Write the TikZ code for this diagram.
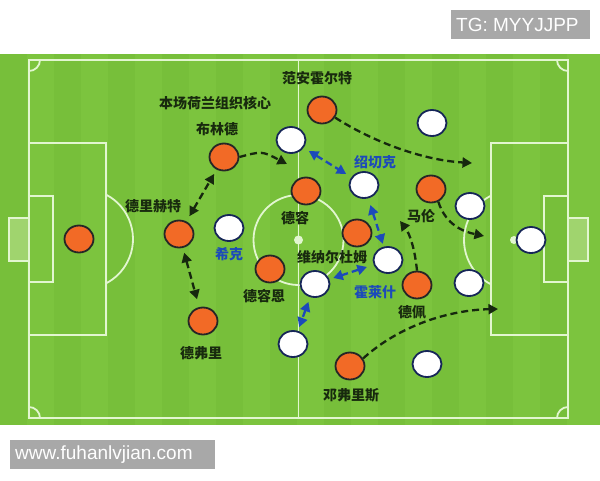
\documentclass[tikz,border=0pt]{standalone}
\usepackage{fontspec}
\setmainfont{Liberation Sans}
\newfontfamily\cjk{Noto Sans CJK SC}
\usetikzlibrary{arrows.meta,shapes.geometric}
\definecolor{pitch}{RGB}{124,196,62}
\definecolor{pitchdark}{RGB}{119,191,58}
\definecolor{linec}{RGB}{226,246,208}
\definecolor{netc}{RGB}{160,212,110}
\definecolor{orangeF}{RGB}{242,106,38}
\definecolor{navy}{RGB}{22,38,88}
\definecolor{lblc}{RGB}{24,42,14}
\definecolor{bluec}{RGB}{28,74,186}
\definecolor{arrc}{RGB}{22,40,14}
\definecolor{boxgray}{RGB}{168,168,168}
\begin{document}
\begin{tikzpicture}[x=1pt,y=-1pt,
  fieldline/.style={draw=linec, line width=1.8pt},
  opl/.style={ellipse, draw=black!85, line width=1.8pt, fill=orangeF, minimum width=29pt, minimum height=27pt, inner sep=0pt},
  wpl/.style={ellipse, draw=navy, line width=1.8pt, fill=white, minimum width=29pt, minimum height=26pt, inner sep=0pt},
  lbl/.style={font=\cjk\bfseries\fontsize{14}{14}\selectfont, text=lblc, inner sep=0pt},
  blbl/.style={lbl, text=bluec},
  darr/.style={draw=arrc, line width=2.3pt, dash pattern=on 7pt off 4pt, -{Triangle[length=9.5pt,width=10pt]}},
  dblarr/.style={draw=arrc, line width=2.3pt, dash pattern=on 7pt off 4pt, {Triangle[length=9.5pt,width=10pt]}-{Triangle[length=9.5pt,width=10pt]}},
  bluearr/.style={draw=bluec, line width=2.3pt, dash pattern=on 7pt off 4pt, {Triangle[length=9.5pt,width=10pt]}-{Triangle[length=9.5pt,width=10pt]}},
  tagbox/.style={fill=boxgray, text=white, font=\fontsize{19}{19}\selectfont, inner sep=0pt, anchor=west}
]
\useasboundingbox (0,0) rectangle (600,480);
\fill[white] (0,0) rectangle (600,480);
% pitch
\fill[pitch] (0,54) rectangle (600,425);
\foreach \x in {0,54,...,560} {\fill[pitchdark] (\x,54) rectangle (\x+27,425);}
% goals
\fill[netc] (9,218) rectangle (29,261);
\draw[linec, line width=2.6pt] (29,218) -- (9,218) -- (9,261) -- (29,261);
\fill[netc] (568,218) rectangle (588,261);
\draw[linec, line width=2.6pt] (568,218) -- (588,218) -- (588,261) -- (568,261);
% lines
\draw[fieldline] (29,60) rectangle (568,418);
\draw[fieldline] (298.5,60) -- (298.5,418);
\draw[fieldline] (298.5,240) circle[radius=45];
\fill[linec] (298.5,240) circle[radius=4.5];
\draw[fieldline] (29,143) rectangle (106,335);
\draw[fieldline] (29,196) rectangle (53,282);
\draw[fieldline] (568,143) rectangle (491,335);
\draw[fieldline] (568,196) rectangle (544,282);
\draw[fieldline] (106,194.6) arc[start angle=-62.6, end angle=62.6, radius=50];
\draw[fieldline] (491,195.6) arc[start angle=242.6, end angle=117.4, radius=50];
\fill[linec] (514,240) circle[radius=4];
\draw[fieldline] (40,60) arc[start angle=0, end angle=90, radius=11];
\draw[fieldline] (557,60) arc[start angle=180, end angle=90, radius=11];
\draw[fieldline] (40,418) arc[start angle=0, end angle=-90, radius=11];
\draw[fieldline] (557,418) arc[start angle=180, end angle=270, radius=11];
% orange players
\node[opl] (gk) at (79,239) {};
\node[opl] (drh) at (179,234) {};
\node[opl] (bld) at (224,157) {};
\node[opl] (fah) at (322,110) {};
\node[opl] (dfl) at (203,321) {};
\node[opl] (dr) at (306,191) {};
\node[opl] (dre) at (270,269) {};
\node[opl] (wnd) at (357,233) {};
\node[opl] (ml) at (431,189) {};
\node[opl] (dp) at (417,285) {};
\node[opl] (dfs) at (350,366) {};
% white players
\node[wpl] (w1) at (291,140) {};
\node[wpl] (w2) at (432,123) {};
\node[wpl] (sqk) at (364,185) {};
\node[wpl] (xk) at (229,228) {};
\node[wpl] (w5) at (470,206) {};
\node[wpl] (wgk) at (531,240) {};
\node[wpl] (w7) at (388,260) {};
\node[wpl] (w8) at (315,284) {};
\node[wpl] (w9) at (469,283) {};
\node[wpl] (w10) at (293,344) {};
\node[wpl] (w11) at (427,364) {};
% labels
\node[lbl] (t1) at (317,78) {范安霍尔特};
\node[lbl] (t2) at (215,103) {本场荷兰组织核心};
\node[lbl] (t3) at (217,129) {布林德};
\node[lbl] (t4) at (153,206) {德里赫特};
\node[blbl] (t5) at (229,254) {希克};
\node[lbl] (t6) at (295,218) {德容};
\node[blbl] (t7) at (375,162) {绍切克};
\node[lbl] (t8) at (421,216) {马伦};
\node[lbl] (t9) at (332,257) {维纳尔杜姆};
\node[blbl] (t10) at (375,292) {霍莱什};
\node[lbl] (t11) at (264,296) {德容恩};
\node[lbl] (t12) at (412,312) {德佩};
\node[lbl] (t13) at (201,353) {德弗里};
\node[lbl] (t14) at (351,395) {邓弗里斯};
% free arrow ends
\coordinate (c1) at (287,164);
\coordinate (c4) at (472,163);
\coordinate (c9) at (400,221);
\coordinate (c10) at (484,236);
\coordinate (c11) at (498,309);
% arrows
\draw[darr] (bld.east) .. controls (262,151) .. (c1);
\draw[dblarr, shorten <=6pt, shorten >=5pt] (drh) -- (bld);
\draw[dblarr, shorten <=5pt, shorten >=8pt] (drh) -- (dfl);
\draw[darr] (fah.-30) .. controls (370,140) and (420,160) .. (c4);
\draw[bluearr, shorten <=6pt, shorten >=6pt] (w1) -- (sqk);
\draw[bluearr, shorten <=7pt, shorten >=3pt] (sqk) -- (w7);
\draw[bluearr, shorten <=7pt, shorten >=4pt] (w7) -- (w8);
\draw[bluearr, shorten <=5pt, shorten >=4pt] (w8) -- (w10);
\draw[darr] (dp.north) .. controls (415,250) and (410,234) .. (c9);
\draw[darr] (ml.-60) .. controls (446,226) and (465,232) .. (c10);
\draw[darr] (dfs.30) .. controls (400,325) and (450,310) .. (c11);
% tags
\fill[boxgray] (451,10) rectangle (590,39);
\node[tagbox] (tg) at (456,25) {TG: MYYJJPP};
\fill[boxgray] (10,440) rectangle (215,469);
\node[tagbox] (web) at (15,455) {www.fuhanlvjian.com};
\end{tikzpicture}
\end{document}
